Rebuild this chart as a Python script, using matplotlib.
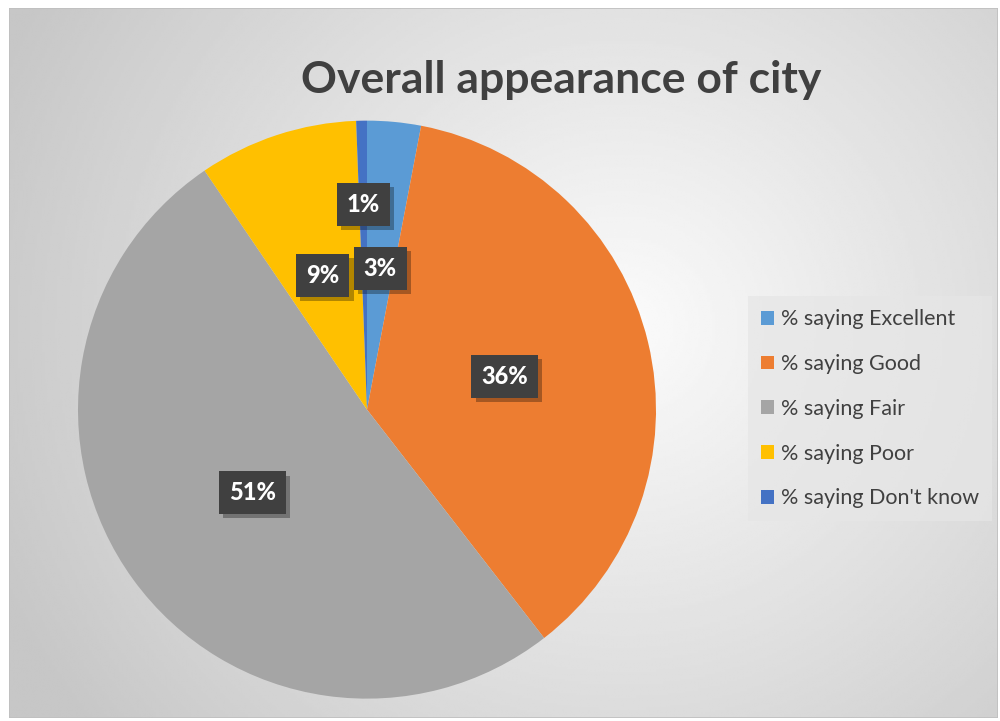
import numpy as np
import matplotlib
matplotlib.use("Agg")
import matplotlib.pyplot as plt
from matplotlib.patches import Rectangle
import matplotlib.patheffects as pe

categories = ["% saying Excellent", "% saying Good", "% saying Fair",
              "% saying Poor", "% saying Don't know"]
values = [3.0, 36.5, 51.0, 8.9, 0.6]
colors = ["#5B9BD5", "#ED7D31", "#A5A5A5", "#FFC000", "#4472C4"]
title = "Overall appearance of city"

plt.rcParams['font.family'] = ['Lato', 'DejaVu Sans']

fig = plt.figure(figsize=(10, 7.21), dpi=100)
fig.patch.set_facecolor("white")

# background gradient panel
bg = fig.add_axes([0.009, 0.004, 0.989, 0.985])
bg.set_axis_off()
yy, xx = np.mgrid[0:1:300j, 0:1:400j]
d = np.sqrt(((xx - 0.62) * 1.0) ** 2 + ((yy - 0.45) * 0.75) ** 2)
g = np.clip(0.985 - 0.30 * d, 0.78, 1.0)
bg.imshow(g, cmap="gray", vmin=0, vmax=1, extent=[0, 1, 0, 1],
          aspect="auto", origin="upper", interpolation="bilinear")
bg.add_patch(Rectangle((0, 0), 1, 1, transform=bg.transAxes, fill=False,
                       edgecolor="#BFBFBF", lw=1.2))
bg.set_xlim(0, 1); bg.set_ylim(0, 1)

ax = fig.add_axes([0.078, 0.031, 0.578, 0.8017])
ax.set_facecolor("none")
wedges, _ = ax.pie(values, colors=colors, startangle=90, counterclock=False,
                   wedgeprops=dict(linewidth=0))
ax.set_aspect("equal")
ax.set_xlim(-1, 1); ax.set_ylim(-1, 1)

total = sum(values)
cum = 0
for i, v in enumerate(values):
    mid = 90 - (cum + v / 2) / total * 360
    cum += v
    r = 0.71 if v < 2 else 0.49
    x, y = r * np.cos(np.radians(mid)), r * np.sin(np.radians(mid))
    lbl = f"{v:.0f}%"
    t = ax.text(x, y, lbl, ha="center", va="center", fontsize=17,
                fontweight="black", color="white",
                bbox=dict(boxstyle="square,pad=0.42", fc="#404040", ec="none"))
    t.get_bbox_patch().set_path_effects(
        [pe.SimplePatchShadow(offset=(3, -3), shadow_rgbFace="black", alpha=0.3),
         pe.Normal()])

fig.text(0.561, 0.889, title, ha="center", va="center", fontsize=32,
         fontweight="bold", color="#404040")

leg = fig.legend(wedges, categories, loc="center left",
                 bbox_to_anchor=(0.748, 0.433), frameon=True, fontsize=15.5,
                 labelcolor="#404040", handlelength=0.6, handleheight=0.6,
                 handletextpad=0.35, labelspacing=1.15, borderpad=0.6,
                 borderaxespad=0, fancybox=False)
leg.get_frame().set_facecolor("#E6E6E6")
leg.get_frame().set_edgecolor("none")
leg.get_frame().set_alpha(0.7)

fig.savefig("out.png", dpi=100)
